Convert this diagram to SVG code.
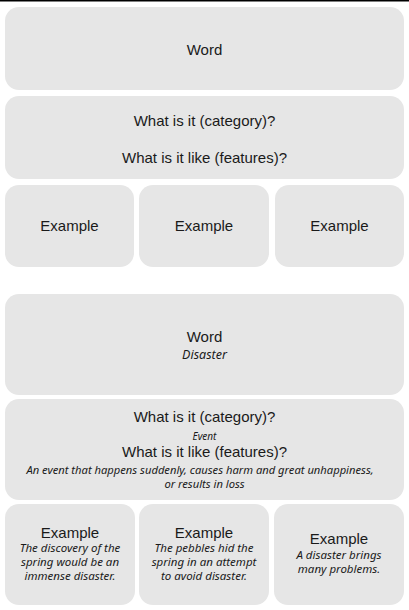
<svg xmlns="http://www.w3.org/2000/svg" width="409" height="610" viewBox="0 0 409 610">
<style>
.box{fill:#e6e6e6;}
.t{font-family:"Liberation Sans",Arial,sans-serif;font-size:15px;fill:#1a1a1a;text-anchor:middle;}
.h{font-family:"Noto Sans","DejaVu Sans",sans-serif;font-style:italic;font-size:11px;fill:#1a1a1a;text-anchor:middle;}
.e{font-size:11.5px;}
</style>
<rect x="0" y="0" width="409" height="610" fill="#ffffff"/>
<rect x="0" y="0" width="409" height="1.5" fill="#000000"/>
<g id="word">
<rect class="box" x="5" y="7" width="399" height="83" rx="14"/>
<text class="t" x="204.5" y="55">Word</text>
</g>
<g id="questions">
<rect class="box" x="5" y="96" width="399" height="83" rx="14"/>
<text class="t" x="204.5" y="126">What is it (category)?</text>
<text class="t" x="204.5" y="163">What is it like (features)?</text>
</g>
<g id="example1">
<rect class="box" x="5" y="185" width="129" height="82" rx="14"/>
<text class="t" x="69.5" y="231">Example</text>
</g>
<g id="example2">
<rect class="box" x="139" y="185" width="130" height="82" rx="14"/>
<text class="t" x="204" y="231">Example</text>
</g>
<g id="example3">
<rect class="box" x="275" y="185" width="129" height="82" rx="14"/>
<text class="t" x="339.5" y="231">Example</text>
</g>
<g id="word-disaster">
<rect class="box" x="5" y="294" width="399" height="101" rx="14"/>
<text class="t" x="204.5" y="342">Word</text>
<text class="h" x="204.5" y="359" style="font-size:12.5px">Disaster</text>
</g>
<g id="questions-disaster">
<rect class="box" x="5" y="399" width="399" height="101" rx="14"/>
<text class="t" x="204.5" y="422">What is it (category)?</text>
<text class="h" x="204.5" y="440" style="font-size:10px">Event</text>
<text class="t" x="204.5" y="457">What is it like (features)?</text>
<text class="h" x="200" y="474" style="font-size:11.2px">An event that happens suddenly, causes harm and great unhappiness,</text>
<text class="h" x="204.5" y="488" style="font-size:11.2px">or results in loss</text>
</g>
<g id="example-disaster1">
<rect class="box" x="5" y="504" width="130" height="101" rx="14"/>
<text class="t" x="70" y="538">Example</text>
<text class="h e" x="70" y="552">The discovery of the</text>
<text class="h e" x="70" y="566">spring would be an</text>
<text class="h e" x="70" y="580">immense disaster.</text>
</g>
<g id="example-disaster2">
<rect class="box" x="139" y="504" width="130" height="101" rx="14"/>
<text class="t" x="204" y="538">Example</text>
<text class="h e" x="204" y="552">The pebbles hid the</text>
<text class="h e" x="204" y="566">spring in an attempt</text>
<text class="h e" x="204" y="580">to avoid disaster.</text>
</g>
<g id="example-disaster3">
<rect class="box" x="274" y="504" width="130" height="101" rx="14"/>
<text class="t" x="339" y="544">Example</text>
<text class="h e" x="339" y="559">A disaster brings</text>
<text class="h e" x="339" y="573">many problems.</text>
</g>
<g id="connectors"></g>
</svg>
